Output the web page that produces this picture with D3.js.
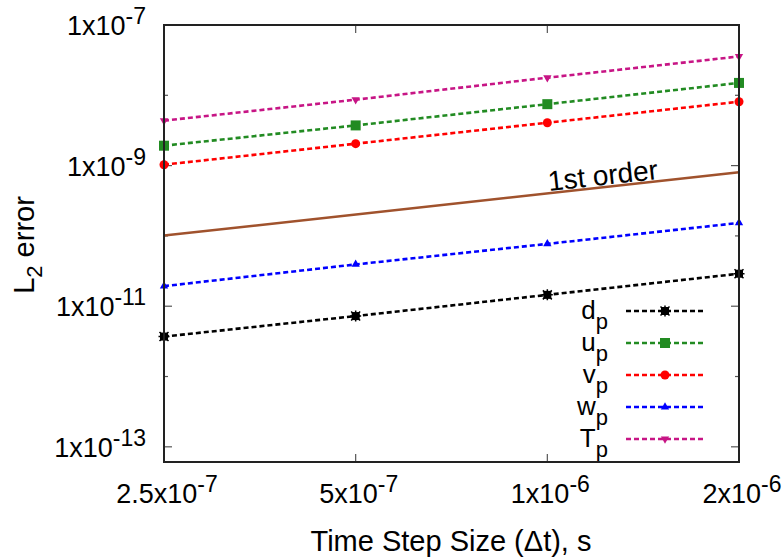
<!DOCTYPE html>
<html><head><meta charset="utf-8">
<script src="https://cdn.jsdelivr.net/npm/d3@7"></script>
<style>body{margin:0;background:#fff}svg{font-family:"Liberation Sans",Arial,sans-serif}</style>
</head><body><svg id="c" width="784" height="559"></svg>
<script>
const dt = [2.5e-7, 5e-7, 1e-6, 2e-6];
const dp = [3.7e-12, 7.24e-12, 1.45e-11, 2.9e-11];
const up = [1.92e-9, 3.73e-9, 7.48e-9, 1.5e-8];
const vp = [1.03e-9, 2.05e-9, 4.07e-9, 8.11e-9];
const wp = [1.93e-11, 3.93e-11, 7.7e-11, 1.53e-10];
const Tp = [4.36e-9, 8.67e-9, 1.78e-8, 3.57e-8];
const firstOrder = [1.01e-10, 8.04e-10]; // at dt[0], dt[3]
const xTicks = [2.5e-7, 5e-7, 1e-6, 2e-6];
const xTickLabels = [["2.5x10","-7"],["5x10","-7"],["1x10","-6"],["2x10","-6"]];
const yMajor = [1e-7, 1e-9, 1e-11, 1e-13];
const yMajorLabels = [["1x10","-7"],["1x10","-9"],["1x10","-11"],["1x10","-13"]];
const yMinor = [1e-8, 1e-10, 1e-12];

const series = [
  {name:"d", vals:dp, color:"#000000", mk:"star"},
  {name:"u", vals:up, color:"#228b22", mk:"square"},
  {name:"v", vals:vp, color:"#ff0000", mk:"circle"},
  {name:"w", vals:wp, color:"#0000ff", mk:"tri"},
  {name:"T", vals:Tp, color:"#c71585", mk:"tridown"}
];

const L=164, R=739, Tt=25, B=462;
const ppd = 70.4;
const yMin = 1e-13 / Math.pow(10, (B-446.8)/ppd);
const x = d3.scaleLog().domain([2.5e-7, 2e-6]).range([L, R]);
const y = d3.scaleLog().domain([yMin, 1e-7]).range([B, Tt]);
const svg = d3.select("#c");

// ticks
const tickG = svg.append("g").attr("stroke","#555").attr("stroke-width",1.2);
yMajor.forEach(v=>{
  tickG.append("line").attr("x1",L).attr("x2",L+8).attr("y1",y(v)).attr("y2",y(v));
  tickG.append("line").attr("x1",R).attr("x2",R-8).attr("y1",y(v)).attr("y2",y(v));
});
yMinor.forEach(v=>{
  tickG.append("line").attr("x1",L).attr("x2",L+4).attr("y1",y(v)).attr("y2",y(v));
  tickG.append("line").attr("x1",R).attr("x2",R-4).attr("y1",y(v)).attr("y2",y(v));
});
xTicks.forEach(v=>{
  tickG.append("line").attr("x1",x(v)).attr("x2",x(v)).attr("y1",B).attr("y2",B-8);
  tickG.append("line").attr("x1",x(v)).attr("x2",x(v)).attr("y1",Tt).attr("y2",Tt+8);
});

// tick labels
function sciLabel(g, px, py, parts, anchor){
  const t = g.append("text").attr("x",px).attr("y",py).attr("text-anchor",anchor)
    .attr("font-size",27).attr("fill","#000");
  t.append("tspan").text(parts[0]);
  t.append("tspan").attr("dy",-11).attr("font-size",23).text(parts[1]);
}
yMajor.forEach((v,i)=> sciLabel(svg, 146, y(v)+10, yMajorLabels[i], "end"));
xTicks.forEach((v,i)=> sciLabel(svg, x(v)+3, 503, xTickLabels[i], "middle"));

// axis titles
svg.append("text").attr("x",451).attr("y",551).attr("text-anchor","middle").attr("font-size",29)
  .text("Time Step Size (\u0394t), s");
const yt = svg.append("text").attr("transform","translate(34,245) rotate(-90)").attr("text-anchor","middle").attr("font-size",29);
yt.append("tspan").text("L");
yt.append("tspan").attr("dy",8).attr("font-size",22).text("2");
yt.append("tspan").attr("dy",-8).text(" error");

// first order line
svg.append("line").attr("x1",x(dt[0])).attr("y1",y(firstOrder[0])).attr("x2",x(dt[3])).attr("y2",y(firstOrder[1]))
  .attr("stroke","#a0522d").attr("stroke-width",2.5);
const ang = Math.atan2(y(firstOrder[1])-y(firstOrder[0]), x(dt[3])-x(dt[0]))*180/Math.PI;
svg.append("text").attr("transform",`translate(549,191) rotate(${ang})`).attr("font-size",28).text("1st order");

// markers
function marker(g, cx, cy, type, color){
  if(type==="square") g.append("rect").attr("x",cx-5).attr("y",cy-5).attr("width",10).attr("height",10).attr("fill",color);
  else if(type==="circle") g.append("circle").attr("cx",cx).attr("cy",cy).attr("r",4.5).attr("fill",color);
  else if(type==="tri") g.append("path").attr("d",d3.symbol(d3.symbolTriangle, 30)()).attr("transform",`translate(${cx},${cy})`).attr("fill",color);
  else if(type==="tridown") g.append("path").attr("d",d3.symbol(d3.symbolTriangle, 30)()).attr("transform",`translate(${cx},${cy}) rotate(180)`).attr("fill",color);
  else if(type==="star"){
    g.append("rect").attr("x",cx-4).attr("y",cy-4).attr("width",8).attr("height",8).attr("fill",color);
    g.append("path").attr("d",`M${cx-5.5},${cy}H${cx+5.5}M${cx},${cy-5.5}V${cy+5.5}M${cx-4.5},${cy-4.5}L${cx+4.5},${cy+4.5}M${cx-4.5},${cy+4.5}L${cx+4.5},${cy-4.5}`)
      .attr("stroke",color).attr("stroke-width",1.5);
  }
}

const line = d3.line().x((d,i)=>x(dt[i])).y(d=>y(d));
series.forEach(s=>{
  const g = svg.append("g");
  g.append("path").attr("d",line(s.vals)).attr("fill","none").attr("stroke",s.color)
    .attr("stroke-width",2.6).attr("stroke-dasharray","5,3");
  s.vals.forEach((v,i)=> marker(g, x(dt[i]), y(v), s.mk, s.color));
});

// legend
const ly0 = 311, lstep = 32;
series.forEach((s,i)=>{
  const ly = ly0 + i*lstep;
  const g = svg.append("g");
  g.append("line").attr("x1",626).attr("x2",704).attr("y1",ly).attr("y2",ly)
    .attr("stroke",s.color).attr("stroke-width",2.6).attr("stroke-dasharray","5,3");
  marker(g, 665, ly, s.mk, s.color);
  const t = g.append("text").attr("x",608).attr("y",ly+8).attr("text-anchor","end").attr("font-size",26);
  t.append("tspan").text(s.name);
  t.append("tspan").attr("dy",10).attr("font-size",22).text("p");
});

// frame
svg.append("rect").attr("x",L).attr("y",Tt).attr("width",R-L).attr("height",B-Tt)
  .attr("fill","none").attr("stroke","#222").attr("stroke-width",2);
</script></body></html>
